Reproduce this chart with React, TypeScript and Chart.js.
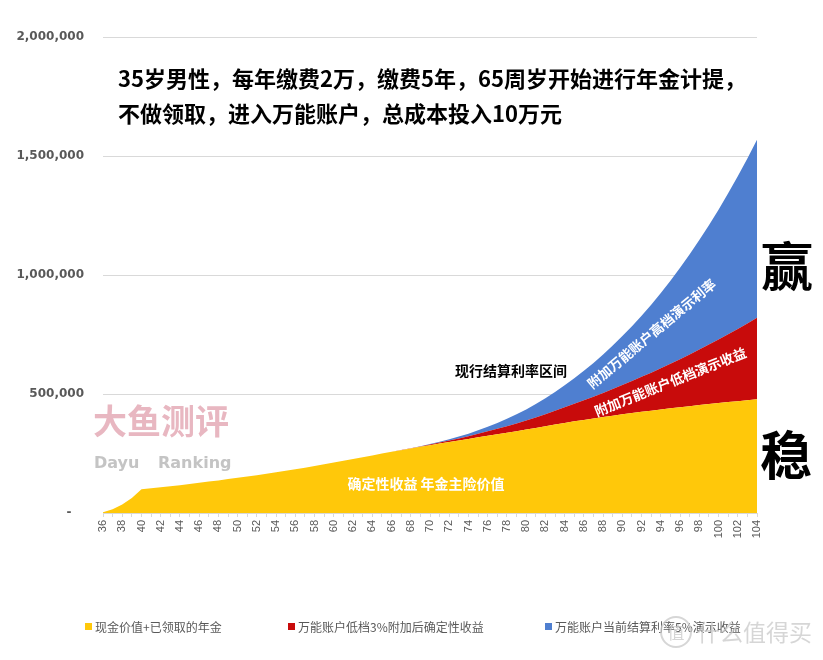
import React, { useEffect, useRef } from 'react';
import { Chart, registerables } from 'chart.js';

Chart.register(...registerables);

const ages = [
  36, 37, 38, 39, 40, 41, 42, 43, 44, 45, 46, 47, 48, 49, 50, 51, 52, 53, 54, 55,
  56, 57, 58, 59, 60, 61, 62, 63, 64, 65, 66, 67, 68, 69, 70, 71, 72, 73, 74, 75,
  76, 77, 78, 79, 80, 81, 82, 83, 84, 85, 86, 87, 88, 89, 90, 91, 92, 93, 94, 95,
  96, 97, 98, 99, 100, 101, 102, 103, 104,
];

// 现金价值+已领取的年金
const cashValue = [
  3000, 16000, 36000, 63000, 100000,
  104000, 108000, 112500, 117000, 122000, 127000, 132000, 137000, 142500, 148000,
  153500, 159000, 165000, 171000, 177500, 184000, 190500, 197500, 204500, 212000,
  219500, 227000, 234500, 242000, 250000, 257000, 264000, 271000, 278000, 285000,
  291500, 298000, 304500, 311000, 318000, 324500, 331000, 337500, 344000, 350500,
  357500, 364500, 371500, 378500, 385000, 391000, 397000, 403000, 409000, 415000,
  420000, 425000, 430000, 435000, 440000, 444500, 449000, 453500, 458000, 462000,
  466000, 470000, 474000, 478000,
];

// 万能账户低档3%附加后确定性收益 (increment above yellow)
const lowRateExtra = [
  0, 0, 0, 0, 0, 0, 0, 0, 0, 0, 0, 0, 0, 0, 0, 0, 0, 0, 0, 0, 0, 0, 0, 0, 0, 0, 0, 0, 0, 0,
  100, 400, 900, 1800, 3000, 4600, 6600, 9000, 11800, 15000,
  18600, 22700, 27300, 32400, 38000, 44100, 50700, 57800, 65500, 73700,
  82500, 91800, 101600, 112100, 123100, 134700, 147100, 159800, 173300, 187300,
  202000, 217000, 233100, 249700, 266800, 285000, 303400, 322500, 342700,
];

// 万能账户当前结算利率演示收益 (increment above red)
const highRateExtra = [
  0, 0, 0, 0, 0, 0, 0, 0, 0, 0, 0, 0, 0, 0, 0, 0, 0, 0, 0, 0, 0, 0, 0, 0, 0, 0, 0, 0, 0, 0,
  20, 140, 440, 1000, 1900, 3300, 5100, 7500, 10600, 14400,
  19000, 24500, 30900, 38300, 46700, 56400, 67200, 79200, 92700, 107700,
  124100, 141900, 161300, 182600, 205600, 230300, 257200, 285500, 316200, 348700,
  383700, 420900, 460500, 501500, 545200, 593000, 641200, 693300, 747100,
];

const yMax = 2000000;
const yStep = 500000;

const seriesNames = [
  '现金价值+已领取的年金',
  '万能账户低档3%附加后确定性收益',
  '万能账户当前结算利率5%演示收益',
];
const seriesColors = ['#ffc80a', '#c80b0b', '#4f7fd0'];

const CJK = '"Noto Sans CJK SC", "Noto Sans", sans-serif';

export default function App() {
  const canvasRef = useRef<HTMLCanvasElement | null>(null);

  useEffect(() => {
    const canvas = canvasRef.current;
    if (!canvas) return;
    const chart = new Chart(canvas, {
      type: 'line',
      data: {
        labels: ages.map(String),
        datasets: [
          {
            label: seriesNames[0],
            data: cashValue,
            backgroundColor: seriesColors[0],
            borderWidth: 0,
            pointRadius: 0,
            fill: 'origin',
          },
          {
            label: seriesNames[1],
            data: lowRateExtra,
            backgroundColor: seriesColors[1],
            borderWidth: 0,
            pointRadius: 0,
            fill: '-1',
          },
          {
            label: seriesNames[2],
            data: highRateExtra,
            backgroundColor: seriesColors[2],
            borderWidth: 0,
            pointRadius: 0,
            fill: '-1',
          },
        ],
      },
      options: {
        animation: false,
        responsive: false,
        devicePixelRatio: 1,
        layout: { padding: { top: 37, right: 66, left: 0, bottom: 0 } },
        plugins: { legend: { display: false }, tooltip: { enabled: false } },
        elements: { line: { tension: 0 } },
        scales: {
          x: {
            offset: false,
            grid: { drawOnChartArea: false, drawTicks: true, tickLength: 4, color: '#d9d9d9' },
            border: { color: '#d9d9d9' },
            ticks: {
              autoSkip: false,
              minRotation: 90,
              maxRotation: 90,
              padding: 3,
              color: '#595959',
              font: { family: '"Liberation Sans", Arial, sans-serif', size: 11 },
              callback: (_v: any, i: number) => (i % 2 === 0 ? String(ages[i]) : ''),
            },
            afterFit: (axis: any) => {
              axis.height = 147;
            },
          },
          y: {
            stacked: true,
            min: 0,
            max: yMax,
            grid: { color: '#d9d9d9', drawTicks: false },
            border: { display: false },
            ticks: {
              stepSize: yStep,
              padding: 19,
              color: '#595959',
              font: { family: '"DejaVu Sans", sans-serif', size: 12, weight: 'bold' },
              callback: (v: any) => (Number(v) === 0 ? '-   ' : Number(v).toLocaleString('en-US')),
            },
            afterFit: (axis: any) => {
              axis.width = 103;
            },
          },
        },
      } as any,
    });
    return () => chart.destroy();
  }, []);

  const abs = (extra: React.CSSProperties): React.CSSProperties => ({
    position: 'absolute',
    whiteSpace: 'nowrap',
    ...extra,
  });

  const legendPos = [
    { sq: 85, tx: 95 },
    { sq: 288, tx: 298 },
    { sq: 545, tx: 555 },
  ];

  return (
    <div
      style={{
        position: 'absolute',
        left: 0,
        top: 0,
        width: 823,
        height: 660,
        background: '#ffffff',
        overflow: 'hidden',
      }}
    >
      <canvas ref={canvasRef} width={823} height={660} style={{ position: 'absolute', left: 0, top: 0 }} />

      {/* title */}
      <div style={abs({ left: 118, top: 62, height: 30, lineHeight: '30px', fontFamily: CJK, fontWeight: 700, fontSize: 22, color: '#000' })}>
        35岁男性，每年缴费2万，缴费5年，65周岁开始进行年金计提，
      </div>
      <div style={abs({ left: 118, top: 97, height: 30, lineHeight: '30px', fontFamily: CJK, fontWeight: 700, fontSize: 22, color: '#000' })}>
        不做领取，进入万能账户，总成本投入10万元
      </div>

      {/* watermark */}
      <div style={abs({ left: 93, top: 400, lineHeight: '40px', fontFamily: CJK, fontWeight: 700, fontSize: 34, color: '#e8b7c1' })}>
        大鱼测评
      </div>
      <div style={abs({ left: 94, top: 452, lineHeight: '22px', fontFamily: '"DejaVu Sans", sans-serif', fontWeight: 700, fontSize: 16, color: '#c4c4c4' })}>
        Dayu
      </div>
      <div style={abs({ left: 158, top: 452, lineHeight: '22px', fontFamily: '"DejaVu Sans", sans-serif', fontWeight: 700, fontSize: 16, color: '#c4c4c4' })}>
        Ranking
      </div>

      {/* annotations */}
      <div style={abs({ left: 511, top: 370, transform: 'translate(-50%, -50%)', fontFamily: CJK, fontWeight: 700, fontSize: 14, color: '#000' })}>
        现行结算利率区间
      </div>
      <div style={abs({ left: 651, top: 333, transform: 'translate(-50%, -50%) rotate(-39.8deg)', fontFamily: CJK, fontWeight: 700, fontSize: 13.5, color: '#fff' })}>
        附加万能账户高档演示利率
      </div>
      <div style={abs({ left: 670, top: 381, transform: 'translate(-50%, -50%) rotate(-21.8deg)', fontFamily: CJK, fontWeight: 700, fontSize: 13.5, color: '#fff' })}>
        附加万能账户低档演示收益
      </div>
      <div style={abs({ left: 426, top: 483, transform: 'translate(-50%, -50%)', fontFamily: CJK, fontWeight: 700, fontSize: 14, color: '#fff' })}>
        确定性收益 年金主险价值
      </div>
      <div style={abs({ left: 787, top: 263, transform: 'translate(-50%, -50%)', fontFamily: CJK, fontWeight: 700, fontSize: 52, color: '#000' })}>
        赢
      </div>
      <div style={abs({ left: 786, top: 452, transform: 'translate(-50%, -50%)', fontFamily: CJK, fontWeight: 700, fontSize: 52, color: '#000' })}>
        稳
      </div>

      {/* legend */}
      {seriesNames.map((name, i) => (
        <React.Fragment key={name}>
          <div style={abs({ left: legendPos[i].sq, top: 623, width: 7, height: 7, background: seriesColors[i] })} />
          <div style={abs({ left: legendPos[i].tx, top: 618, lineHeight: '18px', fontFamily: CJK, fontSize: 12, color: '#595959' })}>
            {name}
          </div>
        </React.Fragment>
      ))}

      {/* site watermark */}
      <div
        style={abs({
          left: 660,
          top: 616,
          width: 28,
          height: 28,
          borderRadius: '50%',
          border: '2px solid rgba(200,200,200,0.75)',
          textAlign: 'center',
          lineHeight: '28px',
          fontFamily: CJK,
          fontSize: 17,
          color: 'rgba(200,200,200,0.75)',
        })}
      >
        值
      </div>
      <div style={abs({ left: 697, top: 614, lineHeight: '34px', fontFamily: CJK, fontSize: 23, color: 'rgba(200,200,200,0.75)' })}>
        什么值得买
      </div>
    </div>
  );
}
